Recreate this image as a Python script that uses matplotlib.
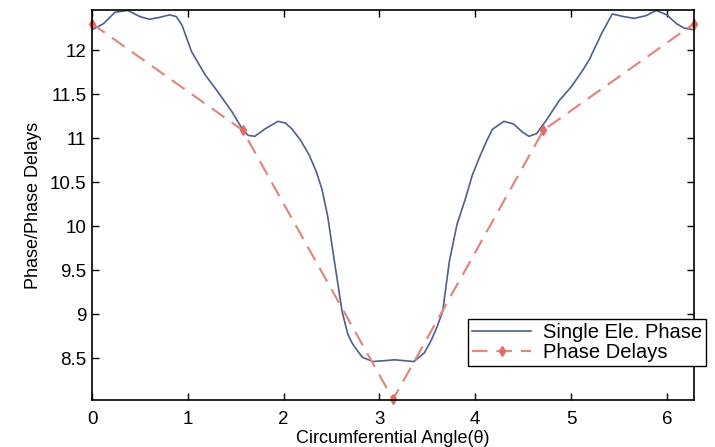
import numpy as np
import matplotlib
matplotlib.use("Agg")
import matplotlib.pyplot as plt

plt.rcParams['font.family'] = ['Liberation Sans', 'DejaVu Sans']

# single element phase
theta = [0.0, 0.12, 0.24, 0.375, 0.5, 0.6, 0.7, 0.81, 0.88, 0.94, 1.04,
         1.18, 1.31, 1.46, 1.57, 1.63, 1.7, 1.8, 1.94, 2.02, 2.09, 2.18,
         2.27, 2.34, 2.4, 2.46, 2.53, 2.61, 2.67, 2.72, 2.82, 2.93, 3.05,
         3.16, 3.26, 3.36, 3.47, 3.54, 3.6, 3.66, 3.73, 3.81, 3.9, 3.97,
         4.04, 4.12, 4.18, 4.3, 4.4, 4.49, 4.56, 4.64, 4.74, 4.88, 5.0,
         5.11, 5.19, 5.32, 5.43, 5.55, 5.66, 5.78, 5.89, 6.0, 6.1, 6.18,
         6.283]
phase = [12.23, 12.30, 12.43, 12.45, 12.38, 12.35, 12.37, 12.40, 12.38,
         12.28, 11.98, 11.72, 11.53, 11.30, 11.10, 11.03, 11.02, 11.10,
         11.19, 11.17, 11.10, 10.97, 10.80, 10.62, 10.42, 10.11, 9.60,
         9.03, 8.77, 8.66, 8.51, 8.46, 8.47, 8.48, 8.47, 8.46, 8.56, 8.70,
         8.85, 9.03, 9.60, 10.02, 10.32, 10.58, 10.77, 10.97, 11.10, 11.19,
         11.16, 11.07, 11.02, 11.05, 11.20, 11.43, 11.58, 11.75, 11.89,
         12.19, 12.41, 12.38, 12.36, 12.39, 12.45, 12.40, 12.30, 12.25,
         12.23]

# phase delays at the element positions
delay_theta = [0.0, np.pi / 2, np.pi, 3 * np.pi / 2, 2 * np.pi]
delay_vals = [12.30, 11.09, 8.03, 11.09, 12.30]

xticks = [0, 1, 2, 3, 4, 5, 6]
yticks = [8.5, 9, 9.5, 10, 10.5, 11, 11.5, 12]
ytick_labels = ['8.5', '9', '9.5', '10', '10.5', '11', '11.5', '12']

fig = plt.figure(figsize=(7.15, 4.47), dpi=100)
ax = fig.add_axes([0.1287, 0.1051, 0.8419, 0.8725])

ax.plot(theta, phase, color='#4d6089', lw=1.2, label='Single Ele. Phase')
ax.plot(delay_theta, delay_vals, color='#dc8a84', lw=1.6,
        linestyle=(0, (7, 4)), marker='d', markersize=5,
        markerfacecolor='#e36a66', markeredgecolor='#e36a66',
        label='Phase Delays', clip_on=False)

ax.set_xlim(0, 2 * np.pi)
ax.set_ylim(8.023, 12.455)
ax.set_xticks(xticks)
ax.set_yticks(yticks)
ax.set_yticklabels(ytick_labels)
ax.tick_params(direction='in', top=True, right=True, length=5, width=1,
               labelsize=13.5)
ax.tick_params(axis='y', pad=4)
ax.tick_params(axis='x', pad=8)
for s in ax.spines.values():
    s.set_linewidth(1.2)

ax.set_xlabel('Circumferential Angle(θ)', fontsize=13, labelpad=1)
ax.set_ylabel('Phase/Phase Delays', fontsize=13, labelpad=6)

leg = fig.legend(loc='upper left', bbox_to_anchor=(0.655, 0.2864),
                 bbox_transform=fig.transFigure, fontsize=14.5,
                 fancybox=False, framealpha=1, edgecolor='black',
                 borderpad=0.2, labelspacing=0.05, handlelength=2.9,
                 handletextpad=0.6, borderaxespad=0)
leg.get_frame().set_linewidth(1.0)

fig.savefig('out.png', dpi=100)
